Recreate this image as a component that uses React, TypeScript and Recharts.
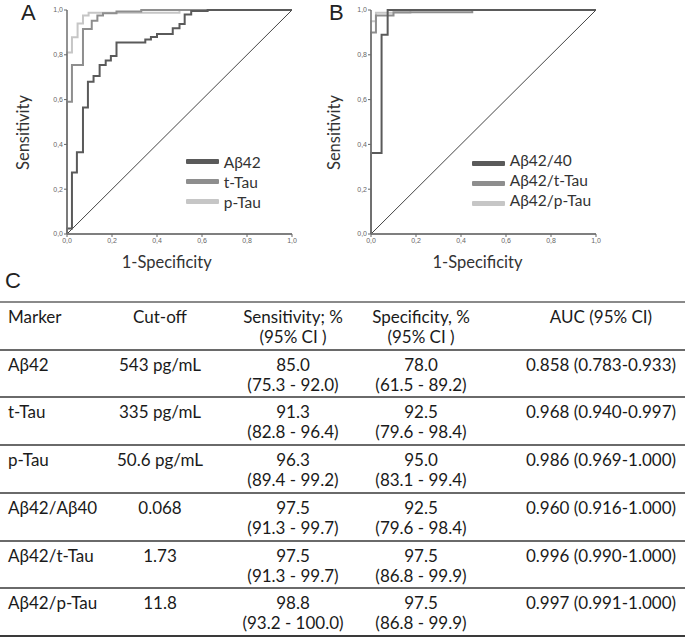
import React from 'react';
import { LineChart, Line, XAxis, YAxis, Legend } from 'recharts';

type Pt = { x: number; y: number };
const toPts = (a: number[][]): Pt[] => a.map(([x, y]) => ({ x, y }));

// ---- axis ticks ----
const axisTicks = [0, 0.2, 0.4, 0.6, 0.8, 1];
const axisTickLabels = ['0,0', '0,2', '0,4', '0,6', '0,8', '1,0'];
const rightStubTicks = [0.826, 0.86, 0.893, 0.925];

// ---- panel A ROC points (1-specificity, sensitivity) ----
const rocAbeta42 = [
  [0, 0], [0, 0.025], [0.022, 0.025], [0.022, 0.275], [0.044, 0.275], [0.044, 0.365],
  [0.071, 0.365], [0.071, 0.565], [0.093, 0.565], [0.093, 0.68], [0.118, 0.68], [0.118, 0.705],
  [0.145, 0.705], [0.145, 0.755], [0.172, 0.755], [0.172, 0.775], [0.195, 0.775], [0.195, 0.795],
  [0.22, 0.795], [0.22, 0.855], [0.348, 0.855], [0.348, 0.868], [0.373, 0.868], [0.373, 0.88],
  [0.4, 0.88], [0.4, 0.893], [0.47, 0.893], [0.47, 0.918], [0.5, 0.918], [0.5, 0.937],
  [0.523, 0.937], [0.523, 0.98], [0.552, 0.98], [0.552, 0.995], [0.625, 0.995], [0.625, 1], [1, 1],
];
const rocTTau = [
  [0, 0], [0, 0.59], [0.022, 0.59], [0.022, 0.755], [0.071, 0.755], [0.071, 0.915],
  [0.11, 0.915], [0.11, 0.952], [0.135, 0.952], [0.135, 0.975], [0.16, 0.975], [0.16, 0.985],
  [0.22, 0.985], [0.22, 0.993], [0.33, 0.993], [0.33, 1], [1, 1],
];
const rocPTau = [
  [0, 0], [0, 0.81], [0.022, 0.81], [0.022, 0.878], [0.047, 0.878], [0.047, 0.94],
  [0.071, 0.94], [0.071, 0.975], [0.096, 0.975], [0.096, 0.988], [0.5, 0.988], [0.5, 1], [1, 1],
];

// ---- panel B ROC points ----
const rocRatio4240 = [
  [0, 0], [0, 0.362], [0.047, 0.362], [0.047, 0.89], [0.074, 0.89], [0.074, 1], [1, 1],
];
const rocRatioTTau = [
  [0, 0], [0, 0.9], [0.022, 0.9], [0.022, 0.975], [0.1, 0.975], [0.1, 0.99], [0.45, 0.99], [0.45, 1], [1, 1],
];
const rocRatioPTau = [
  [0, 0], [0, 0.95], [0.022, 0.95], [0.022, 0.988], [0.175, 0.988], [0.175, 1], [1, 1],
];
const diagonal = [[0, 0], [1, 1]];

// ---- legend names ----
const legendA = ['Aβ42', 't-Tau', 'p-Tau'];
const legendB = ['Aβ42/40', 'Aβ42/t-Tau', 'Aβ42/p-Tau'];

// ---- table ----
const headerLine1 = ['Marker', 'Cut-off', 'Sensitivity; %', 'Specificity, %', 'AUC (95% CI)'];
const headerLine2 = ['', '', '(95% CI )', '(95% CI )', ''];
const markers = ['Aβ42', 't-Tau', 'p-Tau', 'Aβ42/Aβ40', 'Aβ42/t-Tau', 'Aβ42/p-Tau'];
const cutoffs = ['543 pg/mL', '335 pg/mL', '50.6 pg/mL', '0.068', '1.73', '11.8'];
const sensitivity = ['85.0', '91.3', '96.3', '97.5', '97.5', '98.8'];
const sensitivityCI = ['(75.3 - 92.0)', '(82.8 - 96.4)', '(89.4 - 99.2)', '(91.3 - 99.7)', '(91.3 - 99.7)', '(93.2 - 100.0)'];
const specificity = ['78.0', '92.5', '95.0', '92.5', '97.5', '97.5'];
const specificityCI = ['(61.5 - 89.2)', '(79.6 - 98.4)', '(83.1 - 99.4)', '(79.6 - 98.4)', '(86.8 - 99.9)', '(86.8 - 99.9)'];
const aucs = ['0.858 (0.783-0.933)', '0.968 (0.940-0.997)', '0.986 (0.969-1.000)', '0.960 (0.916-1.000)', '0.996 (0.990-1.000)', '0.997 (0.991-1.000)'];

const DARK = '#5a5a5a';
const MID = '#8e8e8e';
const LIGHT = '#c6c6c6';
const FONT = 'Lato, "Open Sans", sans-serif';

const fmtTick = (v: number) => {
  const i = axisTicks.findIndex((t) => Math.abs(t - v) < 1e-9);
  return i >= 0 ? axisTickLabels[i] : String(v);
};

const makeLegend = (names: string[], textShift: number) => (props: any) => {
  const payload = (props.payload || []).filter((p: any) => names.includes(p.value));
  payload.sort((a: any, b: any) => names.indexOf(a.value) - names.indexOf(b.value));
  return (
    <div style={{ fontFamily: FONT }}>
      {payload.map((p: any) => (
        <div key={p.value} style={{ display: 'flex', alignItems: 'center', height: 20 }}>
          <div style={{ width: 33, height: 4.5, background: p.color, borderRadius: 1 }} />
          <span style={{ marginLeft: 5, fontSize: 15.5, color: '#333', position: 'relative', top: textShift, whiteSpace: 'nowrap' }}>
            {p.value}
          </span>
        </div>
      ))}
    </div>
  );
};

const xTitle = (shift: number) => (p: any) => {
  const vb = p.viewBox || {};
  if (vb.x == null) return null;
  return (
    <text x={vb.x + vb.width / 2 + shift} y={vb.y + vb.height} textAnchor="middle" fontSize={16.5} fill="#333" fontFamily={FONT}>
      1-Specificity
    </text>
  );
};

const yTitle = (fromPlotLeft: number) => (p: any) => {
  const vb = p.viewBox || {};
  if (vb.x == null) return null;
  const bx = vb.x + vb.width - fromPlotLeft;
  const cy = vb.y + vb.height / 2 + 10.5;
  return (
    <text x={bx} y={cy} transform={`rotate(-90 ${bx} ${cy})`} textAnchor="middle" fontSize={16.5} fill="#333" fontFamily={FONT}>
      Sensitivity
    </text>
  );
};

const tickStyle = { fontSize: 7, fill: '#666', fontFamily: '"Liberation Sans", Arial, sans-serif' };

interface PanelProps {
  width: number;
  margin: { top: number; right: number; left: number; bottom: number };
  series: { name: string; pts: number[][]; color: string }[];
  legendNames: string[];
  legendPos: { left: number; top: number };
  legendShift: number;
  xShift: number;
  yFromPlot: number;
  stubs?: boolean;
}

const RocPanel = (props: PanelProps) => {
  const { width, margin, series, legendNames, legendPos, legendShift, xShift, yFromPlot, stubs } = props;
  return (
    <LineChart width={width} height={280} margin={margin}>
      <XAxis
        dataKey="x"
        type="number"
        domain={[0, 1]}
        ticks={axisTicks}
        tickFormatter={fmtTick}
        tick={tickStyle}
        tickSize={3}
        tickMargin={1}
        height={34}
        axisLine={{ stroke: '#555', strokeWidth: 1.3 }}
        tickLine={{ stroke: '#666' }}
        label={{ content: xTitle(xShift) }}
      />
      <YAxis
        type="number"
        domain={[0, 1]}
        ticks={axisTicks}
        tickFormatter={fmtTick}
        tick={tickStyle}
        tickSize={3}
        tickMargin={1}
        width={40}
        axisLine={{ stroke: '#777', strokeWidth: 1.6 }}
        tickLine={{ stroke: '#666' }}
        label={{ content: yTitle(yFromPlot) }}
      />
      {stubs && (
        <YAxis
          yAxisId="r"
          orientation="right"
          type="number"
          domain={[0, 1]}
          ticks={rightStubTicks}
          tick={false}
          axisLine={false}
          tickLine={{ stroke: '#999' }}
          tickSize={4}
          width={10}
        />
      )}
      <Line
        data={toPts(diagonal)}
        dataKey="y"
        name="ref"
        stroke="#444"
        strokeWidth={1}
        dot={false}
        legendType="none"
        isAnimationActive={false}
      />
      {series.map((s) => (
        <Line
          key={s.name}
          data={toPts(s.pts)}
          dataKey="y"
          name={s.name}
          stroke={s.color}
          strokeWidth={2}
          dot={false}
          activeDot={false}
          isAnimationActive={false}
        />
      ))}
      <Legend
        layout="vertical"
        align="center"
        verticalAlign="middle"
        content={makeLegend(legendNames, legendShift)}
        wrapperStyle={{ left: legendPos.left, top: legendPos.top, width: 160 }}
      />
    </LineChart>
  );
};

const TABLE_TOP = 302;
const ROW_H = 47.7;
const colCenters = [0, 160, 293, 421, 601];

const Cell = ({ col, row, l1, l2 }: { col: number; row: number; l1: string; l2: string }) => {
  const top = TABLE_TOP + row * ROW_H + 5;
  const base: React.CSSProperties = {
    position: 'absolute',
    top,
    lineHeight: '20px',
    fontSize: 17,
    color: '#1a1a1a',
    whiteSpace: 'nowrap',
  };
  const style: React.CSSProperties =
    col === 0
      ? { ...base, left: 8, textAlign: 'left' }
      : { ...base, left: colCenters[col] - 110, width: 220, textAlign: 'center' };
  return (
    <div style={style}>
      <div>{l1}</div>
      <div>{l2 || '\u00a0'}</div>
    </div>
  );
};

const letterStyle: React.CSSProperties = {
  position: 'absolute',
  fontSize: 22,
  lineHeight: 'normal',
  color: '#222',
  fontFamily: '"Liberation Sans", Arial, sans-serif',
};

export default function App() {
  const rows = markers.map((m, i) => [
    [m, ''],
    [cutoffs[i], ''],
    [sensitivity[i], sensitivityCI[i]],
    [specificity[i], specificityCI[i]],
    [aucs[i], ''],
  ]);
  const ruleColors = ['#8a8a8a', '#6a6a6a', '#6a6a6a', '#6a6a6a', '#6a6a6a', '#6a6a6a', '#6a6a6a', '#3a3a3a'];
  return (
    <div style={{ position: 'absolute', left: 0, top: 0, width: 685, height: 639, background: '#fff', overflow: 'hidden', fontFamily: FONT }}>
      <div style={{ ...letterStyle, left: 21, top: 0 }}>A</div>
      <div style={{ ...letterStyle, left: 329, top: 0 }}>B</div>
      <div style={{ ...letterStyle, left: 5, top: 268 }}>C</div>

      <div style={{ position: 'absolute', left: 0, top: 0 }}>
        <RocPanel
          width={300}
          margin={{ top: 10, right: 8, left: 27, bottom: 12 }}
          series={[
            { name: 'p-Tau', pts: rocPTau, color: LIGHT },
            { name: 't-Tau', pts: rocTTau, color: MID },
            { name: 'Aβ42', pts: rocAbeta42, color: DARK },
          ]}
          legendNames={legendA}
          legendPos={{ left: 185.7, top: 151.7 }}
          legendShift={0}
          xShift={-12.8}
          yFromPlot={38.5}
        />
      </div>
      <div style={{ position: 'absolute', left: 300, top: 0 }}>
        <RocPanel
          width={385}
          margin={{ top: 10, right: 79, left: 31, bottom: 12 }}
          series={[
            { name: 'Aβ42/p-Tau', pts: rocRatioPTau, color: LIGHT },
            { name: 'Aβ42/t-Tau', pts: rocRatioTTau, color: MID },
            { name: 'Aβ42/40', pts: rocRatio4240, color: DARK },
          ]}
          legendNames={legendB}
          legendPos={{ left: 171.7, top: 153.3 }}
          legendShift={-3}
          xShift={-6}
          yFromPlot={31.5}
          stubs
        />
      </div>

      {ruleColors.map((c, i) => (
        <div key={i} style={{ position: 'absolute', left: 0, width: 685, top: TABLE_TOP + i * ROW_H - 1, height: 2, background: c }} />
      ))}
      {headerLine1.map((h, c) => (
        <Cell key={'h' + c} col={c} row={0} l1={h} l2={headerLine2[c]} />
      ))}
      {rows.map((r, ri) =>
        r.map((cell, c) => <Cell key={ri + '-' + c} col={c} row={ri + 1} l1={cell[0]} l2={cell[1]} />)
      )}
    </div>
  );
}
